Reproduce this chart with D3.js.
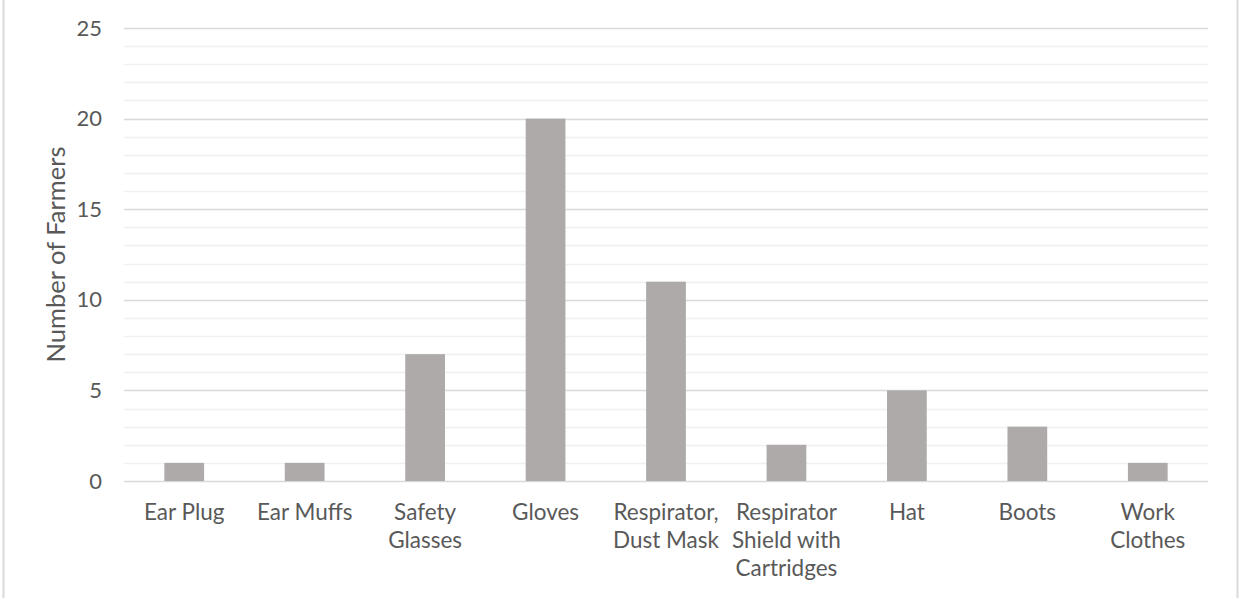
<!DOCTYPE html>
<html>
<head>
<meta charset="utf-8">
<script src="https://cdn.jsdelivr.net/npm/d3@7"></script>
<style>
  html, body { margin: 0; padding: 0; background: #fff; }
  svg { display: block; }
  text { font-family: Lato, "Open Sans", sans-serif; fill: #595959; }
</style>
</head>
<body>
<svg id="chart" width="1241" height="598"></svg>
<script>
// PPE items used by farmers
const categories = [
  ["Ear Plug"],
  ["Ear Muffs"],
  ["Safety", "Glasses"],
  ["Gloves"],
  ["Respirator,", "Dust Mask"],
  ["Respirator", "Shield with", "Cartridges"],
  ["Hat"],
  ["Boots"],
  ["Work", "Clothes"]
];
const counts = [1, 1, 7, 20, 11, 2, 5, 3, 1];
const yMajorTicks = [0, 5, 10, 15, 20, 25];
const yMinorTicks = d3.range(0, 26, 1);
const yTitle = "Number of Farmers";

const W = 1241, H = 598;
const margin = { left: 124, right: 33, top: 28, bottom: 117 };
const plotW = W - margin.left - margin.right;
const plotH = H - margin.top - margin.bottom;

const svg = d3.select("#chart");

// outer frame (left and right edges)
svg.append("line").attr("x1", 3.5).attr("x2", 3.5).attr("y1", 0).attr("y2", H)
  .attr("stroke", "#d9d9d9").attr("stroke-width", 2);
svg.append("line").attr("x1", 1237.5).attr("x2", 1237.5).attr("y1", 0).attr("y2", H)
  .attr("stroke", "#d9d9d9").attr("stroke-width", 2);

const g = svg.append("g").attr("transform", `translate(${margin.left},${margin.top})`);

const keys = categories.map(c => c.join(" "));
const x = d3.scaleBand().domain(keys).range([0, plotW]).paddingInner(0.67).paddingOuter(0.335);
const y = d3.scaleLinear().domain([0, 25]).range([plotH, 0]);

// minor gridlines
g.append("g").selectAll("line").data(yMinorTicks.filter(v => v % 5 !== 0)).join("line")
  .attr("x1", 0).attr("x2", plotW)
  .attr("y1", d => Math.round(y(d)) + 0.5).attr("y2", d => Math.round(y(d)) + 0.5)
  .attr("stroke", "#f0f0f0").attr("stroke-width", 1.5);

// major gridlines
g.append("g").selectAll("line").data(yMajorTicks).join("line")
  .attr("x1", 0).attr("x2", plotW)
  .attr("y1", d => Math.round(y(d)) + 0.5).attr("y2", d => Math.round(y(d)) + 0.5)
  .attr("stroke", "#d9d9d9").attr("stroke-width", 1.5);

// bars
g.append("g").selectAll("rect").data(counts).join("rect")
  .attr("x", (d, i) => x(keys[i]))
  .attr("width", x.bandwidth())
  .attr("y", d => y(d))
  .attr("height", d => y(0) - y(d))
  .attr("fill", "#aeaaaa");

// y axis tick labels
const yAxis = d3.axisLeft(y).tickValues(yMajorTicks).tickSize(0).tickPadding(22);
const ya = g.append("g").call(yAxis);
ya.select(".domain").remove();
ya.selectAll("text").style("font-size", "22px").attr("fill", "#595959")
  .style("font-family", "Lato, 'Open Sans', sans-serif");

// x axis category labels
const xl = g.append("g").attr("transform", `translate(0,${plotH})`);
categories.forEach((lines, i) => {
  const t = xl.append("text")
    .attr("x", x(keys[i]) + x.bandwidth() / 2)
    .attr("y", 39)
    .attr("text-anchor", "middle")
    .style("font-size", "22.5px");
  lines.forEach((ln, j) => {
    t.append("tspan").attr("x", x(keys[i]) + x.bandwidth() / 2)
      .attr("dy", j === 0 ? 0 : 28).text(ln);
  });
});

// y title
svg.append("text")
  .attr("transform", `translate(65,${margin.top + plotH / 2}) rotate(-90)`)
  .attr("text-anchor", "middle")
  .style("font-size", "25.5px")
  .text(yTitle);
</script>
</body>
</html>
